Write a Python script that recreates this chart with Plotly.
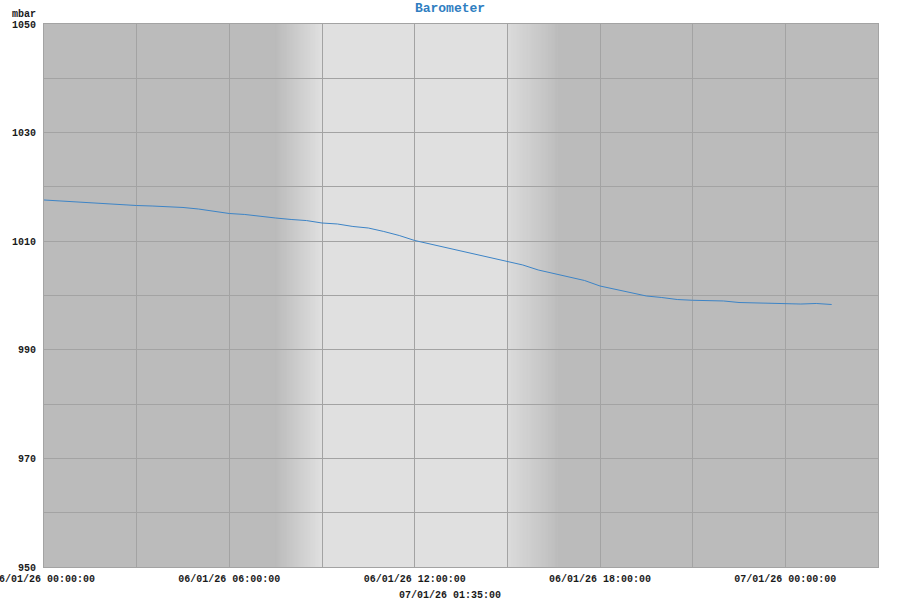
import plotly.graph_objects as go
import pandas as pd

# ---- data ----
hours = [0.0, 0.5, 1.0, 1.5, 2.0, 2.5, 3.0, 3.5, 4.0, 4.5, 5.0, 5.5, 6.0, 6.5, 7.0, 7.5,
         8.0, 8.5, 9.0, 9.5, 10.0, 10.5, 11.0, 11.5, 12.0, 12.5, 13.0, 13.5, 14.0, 14.5,
         15.0, 15.5, 16.0, 16.5, 17.0, 17.5, 18.0, 18.5, 19.0, 19.5, 20.0, 20.5, 21.0,
         21.5, 22.0, 22.5, 23.0, 23.5, 24.0, 24.5, 25.0, 25.5]
pressure = [1017.59, 1017.40, 1017.31, 1017.03, 1016.94, 1016.76, 1016.57, 1016.48, 1016.39,
            1016.21, 1015.93, 1015.56, 1015.10, 1014.92, 1014.55, 1014.27, 1014.00, 1013.80,
            1013.35, 1013.17, 1012.71, 1012.43, 1011.79, 1011.05, 1010.13, 1009.48, 1008.84,
            1008.29, 1007.64, 1007.00, 1006.26, 1005.62, 1004.70, 1004.05, 1003.41, 1002.76,
            1001.75, 1001.14, 1000.46, 999.91, 999.63, 999.26, 999.12, 999.08, 998.99, 998.71,
            998.62, 998.56, 998.56, 998.43, 998.53, 998.34]
y_tick_vals = [950, 970, 990, 1010, 1030, 1050]
title_text = "Barometer"
y_unit = "mbar"
footer_text = "07/01/26 01:35:00"

start = pd.Timestamp("2026-01-06 00:00:00")
end = pd.Timestamp("2026-01-07 03:00:00")
times = [start + pd.Timedelta(hours=h) for h in hours]

NIGHT = (187, 187, 187)
DAY = (224, 224, 224)

def mix(a, b, t):
    return "rgb(%d,%d,%d)" % tuple(round(a[i] + (b[i] - a[i]) * t) for i in range(3))

shapes = []
# day block
shapes.append(dict(type="rect", xref="x", yref="paper", x0=start + pd.Timedelta(hours=9),
                   x1=start + pd.Timedelta(hours=15), y0=0, y1=1, fillcolor=mix(NIGHT, DAY, 1),
                   line=dict(width=0), layer="below"))

def gradient(h0, h1, c0, c1, n):
    for i in range(n):
        a = h0 + (h1 - h0) * i / n
        b = h0 + (h1 - h0) * (i + 1) / n
        shapes.append(dict(type="rect", xref="x", yref="paper",
                           x0=start + pd.Timedelta(hours=a), x1=start + pd.Timedelta(hours=b + 0.01),
                           y0=0, y1=1, fillcolor=mix(c0, c1, (i + 0.5) / n),
                           line=dict(width=0), layer="below"))

gradient(7.5, 9.0, NIGHT, DAY, 46)
gradient(15.0, 16.7, DAY, NIGHT, 52)

fig = go.Figure()
fig.add_trace(go.Scatter(x=times, y=pressure, mode="lines",
                         line=dict(color="#3d84c6", width=1), hoverinfo="x+y"))

grid = "#a3a3a3"
tickfont = dict(family="Liberation Mono", size=10, color="#1a1a1a", weight="bold")

fig.update_layout(
    width=900, height=600,
    margin=dict(l=44, r=22, t=24, b=33),
    paper_bgcolor="white",
    plot_bgcolor="rgb(187,187,187)",
    showlegend=False,
    shapes=shapes,
    title=dict(text=title_text, x=0.5, xanchor="center", xref="container",
               y=1 - 7 / 600, yanchor="middle", yref="container",
               font=dict(family="Liberation Mono", size=13, color="#2f7ec1", weight="bold")),
    xaxis=dict(type="date", range=[start, end], dtick=6 * 3600 * 1000, tick0=start,
               tickformat="%d/%m/%y %H:%M:%S", showgrid=True, gridcolor=grid, gridwidth=1,
               minor=dict(dtick=3 * 3600 * 1000, tick0=start, showgrid=True, gridcolor=grid, gridwidth=1),
               showline=True, linecolor=grid, mirror=True, zeroline=False, automargin=False,
               ticks="", tickfont=tickfont, ticklabelstandoff=2, ticklabeloverflow="allow"),
    yaxis=dict(range=[950, 1050], tickvals=y_tick_vals, showgrid=True, gridcolor=grid,
               minor=dict(tick0=950, dtick=10, showgrid=True, gridcolor=grid, gridwidth=1),
               showline=True, linecolor=grid, mirror=True, zeroline=False, automargin=False,
               ticks="", tickfont=tickfont, ticklabelstandoff=5, ticklabeloverflow="allow"),
    annotations=[
        dict(text=y_unit, xref="paper", yref="paper", x=(10 - 44) / 834, y=(567 - 15) / 543,
             xanchor="left", yanchor="middle", showarrow=False,
             font=dict(family="Liberation Mono", size=10, color="#1a1a1a", weight="bold")),
        dict(text=footer_text, xref="paper", yref="paper", x=(450 - 44) / 834, y=(567 - 595) / 543,
             xanchor="center", yanchor="middle", showarrow=False,
             font=dict(family="Liberation Mono", size=10, color="#1a1a1a", weight="bold")),
    ],
)

fig.write_html("out.html", config={"displayModeBar": False},
               post_script="document.body.style.margin='0';document.body.style.overflow='hidden';")
